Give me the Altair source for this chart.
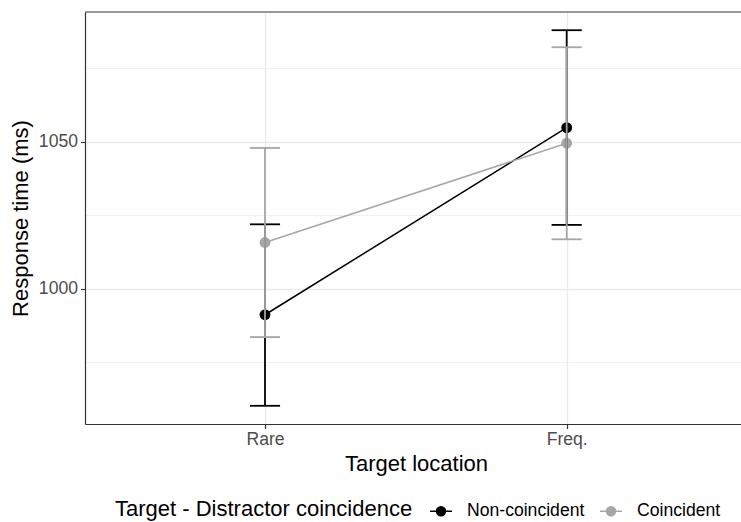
import json

import altair as alt
import pandas as pd

# Condition means and confidence limits (ms)
locations = ["Rare", "Freq."]
groups = ["Non-coincident", "Coincident"]
mean_noncoinc = [991.1, 1054.8]
low_noncoinc = [960.1, 1021.7]
high_noncoinc = [1021.9, 1088.0]
mean_coinc = [1015.7, 1049.5]
low_coinc = [983.5, 1016.8]
high_coinc = [1047.9, 1082.2]

rows = []
for grp, means, lows, highs in [
    (groups[0], mean_noncoinc, low_noncoinc, high_noncoinc),
    (groups[1], mean_coinc, low_coinc, high_coinc),
]:
    for loc, m, lo, hi in zip(locations, means, lows, highs):
        rows.append({"location": loc, "group": grp, "rt": m, "lo": lo, "hi": hi})
df = pd.DataFrame(rows)

W, H = 656, 412
FONT = "Liberation Sans"
INK = "#333333"
CAP_HALF = 0.05  # half-width of the error-bar caps, in category units

major = "datum.value % 50 == 0"
loc_list = json.dumps(locations)

x_axis = alt.Axis(
    title="Target location",
    values=list(range(1, len(locations) + 1)),
    labelExpr=f"{loc_list}[datum.value - 1]",
    labelAngle=0,
    grid=True,
    gridColor="#ebebeb",
    gridWidth=1.4,
    tickSize=4.5,
    tickColor=INK,
    tickWidth=1.2,
    domainColor=INK,
    domainWidth=1.2,
    labelFontSize=17.6,
    labelColor="#4d4d4d",
    labelPadding=2,
    titleFontSize=22,
    titleFontWeight="normal",
    titleColor="black",
    titlePadding=5,
    titleX=331,
)
x_scale = alt.Scale(domain=[0.4034, 2.5778], nice=False, zero=False)
x_enc = alt.X("xi:Q", scale=x_scale, axis=x_axis)

y_scale = alt.Scale(domain=[953.9, 1094.2], nice=False, zero=False)
y_axis = alt.Axis(
    title="Response time (ms)",
    values=[975, 1000, 1025, 1050, 1075],
    format="d",
    labelExpr=f"{major} ? datum.label : ''",
    gridColor="#ebebeb",
    gridWidth={"condition": {"test": major, "value": 1.4}, "value": 0.7},
    tickColor={"condition": {"test": major, "value": INK}, "value": "transparent"},
    tickSize=4.5,
    tickWidth=1.2,
    domainColor=INK,
    domainWidth=1.2,
    labelFontSize=17.6,
    labelColor="#4d4d4d",
    labelPadding=3,
    titleFontSize=22,
    titleFontWeight="normal",
    titleColor="black",
    titlePadding=6,
)

legend_symbol = (
    "M-1,0L1,0M0.41,0A0.41,0.41,0,1,1,-0.41,0A0.41,0.41,0,1,1,0.41,0Z"
)
color_enc = alt.Color(
    "group:N",
    sort=groups,
    scale=alt.Scale(domain=groups, range=["#000000", "#a6a6a6"]),
    legend=alt.Legend(
        title="Target - Distractor coincidence",
        orient="none",
        legendX=30,
        legendY=487,
        direction="horizontal",
        titleOrient="left",
        titleFontSize=22,
        titleFontWeight="normal",
        titleColor="black",
        titlePadding=16,
        titleLimit=500,
        labelFontSize=17.6,
        labelColor="black",
        labelLimit=300,
        labelOffset=14,
        columnPadding=12,
        symbolType=legend_symbol,
        symbolSize=484,
        symbolStrokeWidth=1.5,
        symbolOpacity=1,
    ),
)

base = alt.Chart(df).transform_calculate(
    xi=f"indexof({loc_list}, datum.location) + 1",
    x_lo=f"indexof({loc_list}, datum.location) + 1 - {CAP_HALF}",
    x_hi=f"indexof({loc_list}, datum.location) + 1 + {CAP_HALF}",
)

lines = base.mark_line(strokeWidth=1.5).encode(
    x=x_enc, y=alt.Y("rt:Q", scale=y_scale, axis=y_axis), color=color_enc
)
points = base.mark_point(filled=True, size=118, opacity=1).encode(
    x=x_enc, y=alt.Y("rt:Q"), color=color_enc
)

# error bars drawn group by group so the grey ones sit on top
err_layers = []
for grp in groups:
    sub = base.transform_filter(alt.datum.group == grp)
    err_layers.append(
        sub.mark_rule(strokeWidth=1.8).encode(
            x=x_enc, y=alt.Y("lo:Q"), y2="hi:Q", color=color_enc
        )
    )
    for end in ["lo", "hi"]:
        err_layers.append(
            sub.mark_rule(strokeWidth=1.8).encode(
                x=alt.X("x_lo:Q"), x2="x_hi:Q", y=alt.Y(f"{end}:Q"), color=color_enc
            )
        )

top_edge = (
    alt.Chart(pd.DataFrame({"edge": ["top"]}))
    .mark_rule(color=INK, strokeWidth=1.2)
    .encode(x=alt.value(0), x2=alt.value(W), y=alt.value(0))
)

chart = (
    alt.layer(lines, points, *err_layers, top_edge)
    .properties(
        width=W,
        height=H,
        padding={"left": 85, "top": 12, "right": 0, "bottom": 98},
        autosize=alt.AutoSizeParams(type="none"),
        background="white",
    )
    .configure(font=FONT)
    .configure_view(stroke=None)
)

chart.save("out.html", embed_options={"renderer": "svg", "actions": False})
